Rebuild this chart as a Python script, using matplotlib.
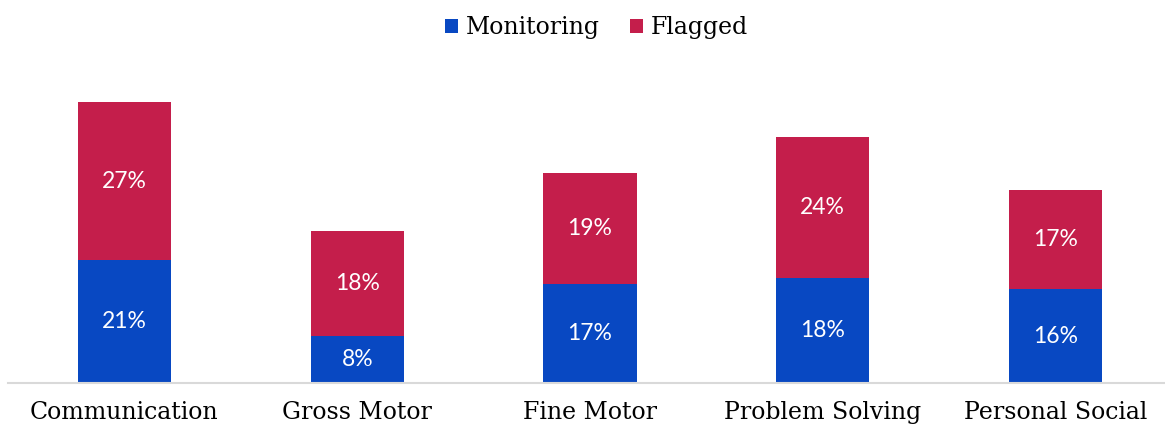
import matplotlib
matplotlib.use("Agg")
import matplotlib.pyplot as plt
import numpy as np

categories = ["Communication", "Gross Motor", "Fine Motor", "Problem Solving", "Personal Social"]
monitoring = [21, 8, 17, 18, 16]
flagged = [27, 18, 19, 24, 17]

blue = "#0848C2"
red = "#C41E4B"

fig = plt.figure(figsize=(11.65, 4.28), dpi=100)
ax = fig.add_axes([8 / 1165, 45 / 428, 1157 / 1165, 325 / 428])

x = np.arange(len(categories))
w = 0.4
b1 = ax.bar(x, monitoring, w, color=blue, label="Monitoring")
b2 = ax.bar(x, flagged, w, bottom=monitoring, color=red, label="Flagged")

for rects, vals, bottoms in ((b1, monitoring, [0] * 5), (b2, flagged, monitoring)):
    for r, v, b in zip(rects, vals, bottoms):
        ax.text(r.get_x() + r.get_width() / 2, b + v / 2, f"{v}%",
                ha="center", va="center", color="white", fontsize=16.5,
                family="Lato")

ax.set_xlim(-0.5, 4.47)
ax.set_ylim(0, 55.6)
ax.set_xticks(x)
ax.set_xticklabels(categories, family="DejaVu Serif", fontsize=17)
ax.tick_params(axis="x", length=0, pad=13)
ax.set_yticks([])
for s in ("top", "right", "left"):
    ax.spines[s].set_visible(False)
ax.spines["bottom"].set_color("#d9d9d9")
ax.spines["bottom"].set_linewidth(1.5)

leg = fig.legend(handles=[b1, b2], loc="upper center", bbox_to_anchor=(0.512, 1.012),
                 ncol=2, frameon=False, prop={"family": "DejaVu Serif", "size": 17},
                 handlelength=0.55, handleheight=0.55, handletextpad=0.3, columnspacing=1.3)

fig.savefig("out.png", dpi=100)
